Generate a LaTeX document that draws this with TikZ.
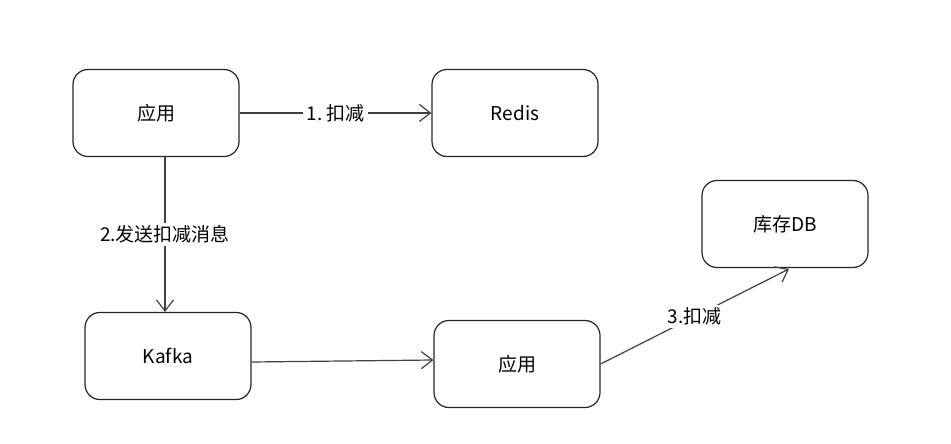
\documentclass[tikz,border=0pt]{standalone}
\usepackage{fontspec}
\setmainfont{Noto Sans CJK SC}
\usetikzlibrary{arrows.meta}
\begin{document}
\begin{tikzpicture}[x=1pt,y=-1pt,
  box/.style={draw=black!85,line width=1.2pt,rounded corners=15pt,minimum width=166pt,minimum height=87pt,inner sep=0pt,font=\fontsize{19}{22}\selectfont},
  conn/.style={draw=black!75,line width=1.2pt,-{Straight Barb[length=11pt,width=17pt,line width=1.2pt]}},
  lbl/.style={fill=white,inner sep=3pt,font=\fontsize{19}{22}\selectfont}]
\useasboundingbox[fill=white] (0,0) rectangle (951,444);
\node[box] (app1) at (156,113) {应用};
\node[box] (redis) at (515,113) {Redis};
\node[box] (db) at (785,224) {库存DB};
\node[box] (kafka) at (168,356) {Kafka};
\node[box] (app2) at (517,364) {应用};
\draw[conn] (app1.east) -- node[lbl] {1.\ 扣减} (redis.west);
\draw[conn] (app1.south -| 165,0) -- node[lbl,pos=0.5] {2.发送扣减消息} (kafka.north -| 165,0);
\coordinate (kout) at (kafka.east |- 0,362);
\coordinate (a2in) at (app2.west |- 0,360);
\draw[conn] (kout) -- (a2in);
\coordinate (dbin) at (789,269);
\draw[conn] (app2.east) -- node[lbl,pos=0.5] {3.扣减} (dbin);
\end{tikzpicture}
\end{document}
